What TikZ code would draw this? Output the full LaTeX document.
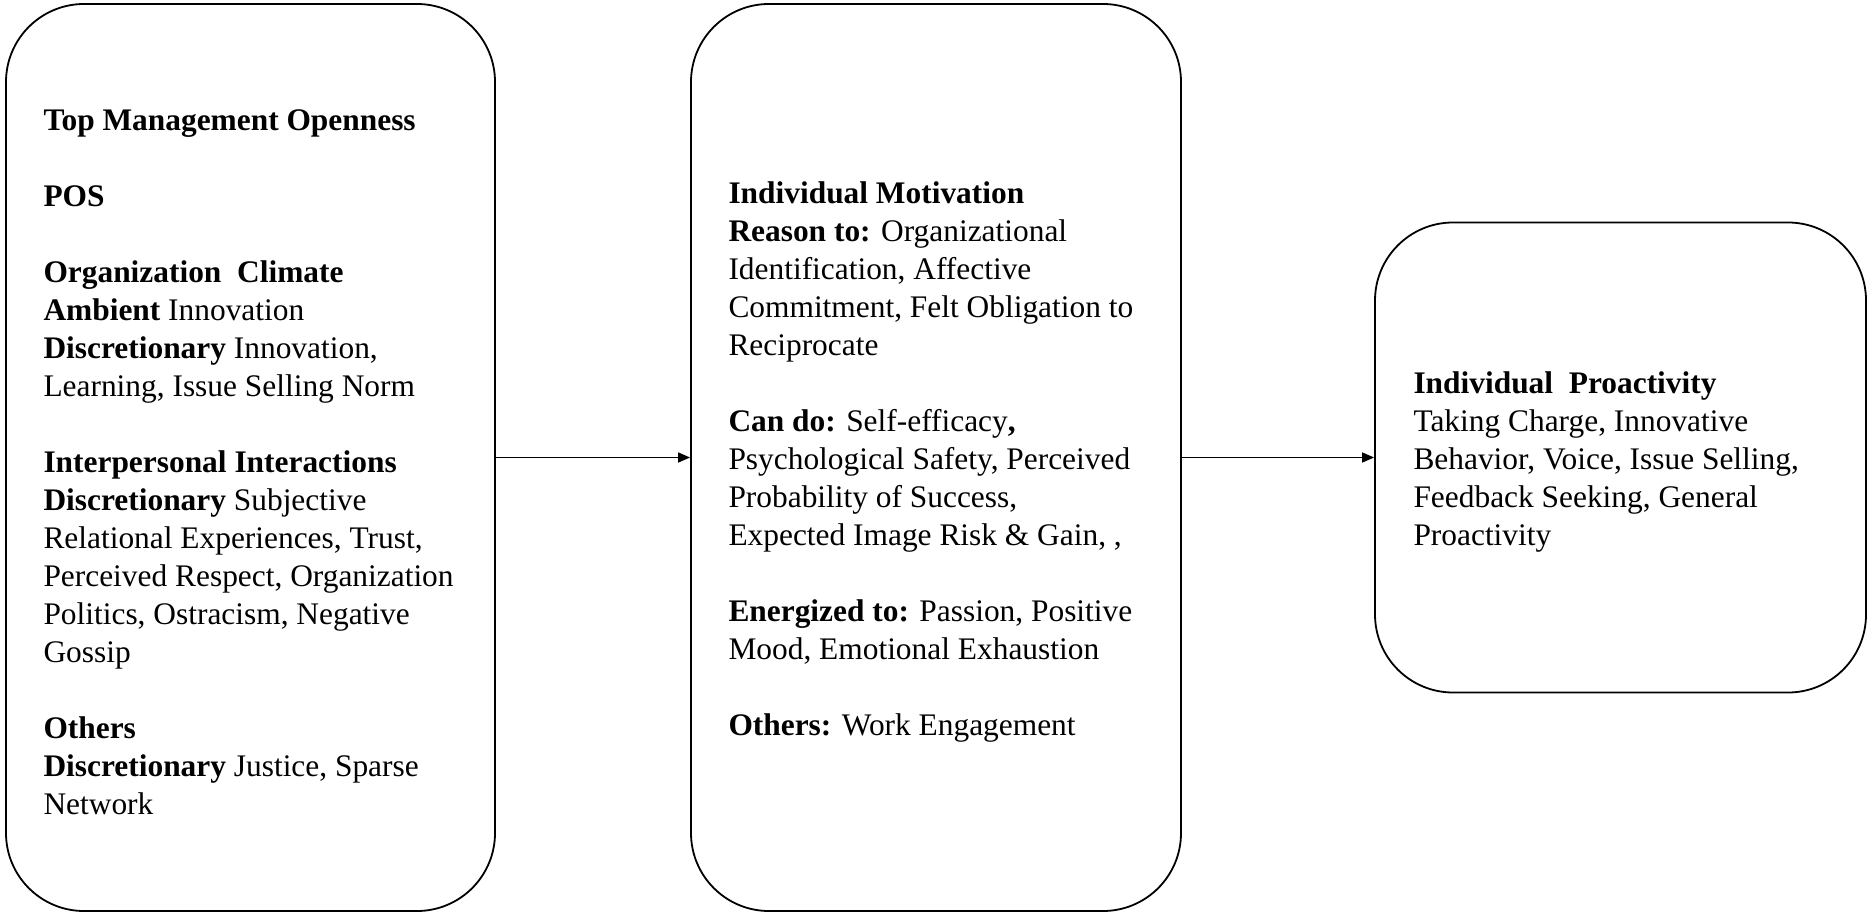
\documentclass[tikz,border=0pt]{standalone}
\usepackage{fontspec}
\setmainfont{Liberation Serif}
\usetikzlibrary{arrows.meta,calc}
\begin{document}
\begin{tikzpicture}[x=0.5pt,y=-0.5pt,
  panel/.style={draw,line width=0.9pt,rounded corners=39pt,rectangle,inner sep=0pt},
  body/.style={anchor=west,align=left,inner sep=0pt,
    font=\fontsize{15.7pt}{19pt}\selectfont},
  link/.style={line width=0.7pt,-{Triangle[length=6pt,width=5pt]}}]
\useasboundingbox (0,0) rectangle (1867,914);
% the three panels
\node[panel,minimum width=244.5pt,minimum height=453.5pt] (b1) at (250.5,457.5) {};
\node[panel,minimum width=245pt,minimum height=453.5pt] (b2) at (936,457.5) {};
\node[panel,minimum width=245.5pt,minimum height=235pt] (b3) at (1620.5,457.5) {};
% panel texts
\node[body] (t1) at ($(b1.west)+(38,4.5)$) {%
\textbf{Top Management Openness}\\[19pt]
\textbf{POS}\\[19pt]
\textbf{Organization\ \ Climate}\\
\textbf{Ambient} Innovation\\
\textbf{Discretionary} Innovation,\\
Learning, Issue Selling Norm\\[19pt]
\textbf{Interpersonal Interactions}\\
\textbf{Discretionary} Subjective\\
Relational Experiences, Trust,\\
Perceived Respect, Organization\\
Politics, Ostracism, Negative\\
Gossip\\[19pt]
\textbf{Others}\\
\textbf{Discretionary} Justice, Sparse\\
Network};
\node[body] (t2) at ($(b2.west)+(38,4.5)$) {%
\textbf{Individual Motivation}\\
\textbf{Reason to:} Organizational\\
Identification, Affective\\
Commitment, Felt Obligation to\\
Reciprocate\\[19pt]
\textbf{Can do:} Self-efficacy\textbf{,}\\
Psychological Safety, Perceived\\
Probability of Success,\\
Expected Image Risk \& Gain, ,\\[19pt]
\textbf{Energized to:} Passion, Positive\\
Mood, Emotional Exhaustion\\[19pt]
\textbf{Others:} Work Engagement};
\node[body] (t3) at ($(b3.west)+(39,4.5)$) {%
\textbf{Individual\ \ Proactivity}\\
Taking Charge, Innovative\\
Behavior, Voice, Issue Selling,\\
Feedback Seeking, General\\
Proactivity};
% connectors
\draw[link] (b1.east) -- (b2.west);
\draw[link] (b2.east) -- (b3.west);
\end{tikzpicture}
\end{document}
